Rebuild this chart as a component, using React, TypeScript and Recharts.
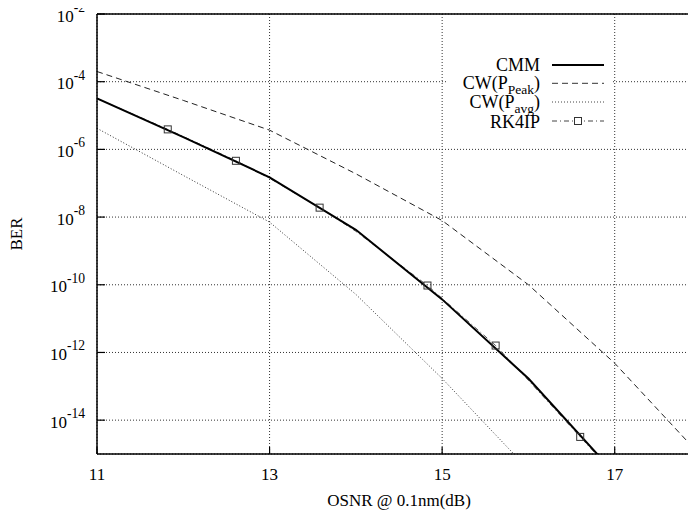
import React from "react";
import { LineChart, Line, XAxis, YAxis, CartesianGrid, ReferenceLine } from "recharts";

// OSNR (dB) x positions
const cmmX = [11, 12, 13, 14, 15, 16, 17];
const cmmBER = [3.2e-5, 2.3e-6, 1.5e-7, 4.2e-9, 3.7e-11, 1.7e-13, 2.7e-16];

const peakX = [11, 12, 13, 14, 15, 16, 17, 18];
const peakBER = [2.0e-4, 2.8e-5, 3.7e-6, 1.9e-7, 7.9e-9, 1.0e-10, 4.8e-13, 8.7e-16];

const avgX = [11, 12, 13, 14, 15, 16];
const avgBER = [4.2e-6, 1.7e-7, 7.1e-9, 5.2e-11, 1.7e-13, 3.5e-16];

const rkX = [11, 11.82, 12.61, 13, 13.58, 14, 14.83, 15.62, 16, 16.6, 17];
const rkBER = [3.2e-5, 3.9e-6, 4.6e-7, 1.4e-7, 1.9e-8, 3.8e-9, 9.5e-11, 1.6e-12, 1.5e-13, 3.2e-15, 2.5e-16];
const rkMarker = [false, true, true, false, true, false, true, true, false, true, false];

const xTicks = [11, 13, 15, 17];
const yTickExp = [-2, -4, -6, -8, -10, -12, -14];
const yTicks = yTickExp.map((e) => Math.pow(10, e));

const cmmData = cmmX.map((x, i) => ({ x, y: cmmBER[i] }));
const peakData = peakX.map((x, i) => ({ x, y: peakBER[i] }));
const avgData = avgX.map((x, i) => ({ x, y: avgBER[i] }));
const rkData = rkX.map((x, i) => ({ x, y: rkBER[i], m: rkMarker[i] }));

const FONT = "'Liberation Serif', 'Times New Roman', serif";

const YTick = (props: any) => {
  const { x, y, payload } = props;
  const exp = Math.round(Math.log10(payload.value));
  return (
    <g>
      <line x1={x + 12} x2={x + 20} y1={y} y2={y} stroke="#000" strokeWidth={1.2} />
      <text x={x} y={y + 7.5} textAnchor="end" fontFamily={FONT} fontSize={17} fill="#000">
        <tspan>10</tspan>
        <tspan dy={-9.5} fontSize={13.6}>{String(exp)}</tspan>
      </text>
    </g>
  );
};

const XTick = (props: any) => {
  const { x, y, payload } = props;
  const base = y - 14;
  return (
    <g>
      <line x1={x} x2={x} y1={base} y2={base - 7} stroke="#000" strokeWidth={1.2} />
      <text x={x} y={y + 12} textAnchor="middle" fontFamily={FONT} fontSize={17} fill="#000">
        {payload.value}
      </text>
    </g>
  );
};

const RkDot = (props: any) => {
  const { cx, cy, payload, index } = props;
  if (!payload || !payload.m) return <g key={`d${index}`} />;
  return (
    <rect key={`d${index}`} x={cx - 3.5} y={cy - 3.5} width={7} height={7} fill="none" stroke="#333" strokeWidth={1} />
  );
};

const Legend = () => (
  <div style={{ position: "absolute", left: 448, top: 52, width: 164, height: 82, background: "#fff" }}>
    <svg width={164} height={82}>
      <g fontFamily={FONT} fontSize={18} fill="#000">
        <text x={92} y={18.7} textAnchor="end">CMM</text>
        <text x={92} y={37} textAnchor="end">
          <tspan>CW(P</tspan>
          <tspan dy={5} fontSize={13.5}>Peak</tspan>
          <tspan dy={-5}>)</tspan>
        </text>
        <text x={92} y={55.7} textAnchor="end">
          <tspan>CW(P</tspan>
          <tspan dy={5} fontSize={13.5}>avg</tspan>
          <tspan dy={-5}>)</tspan>
        </text>
        <text x={92} y={75.7} textAnchor="end">RK4IP</text>
      </g>
      <line x1={104} x2={156} y1={13} y2={13} stroke="#000" strokeWidth={2} />
      <line x1={104} x2={156} y1={31.3} y2={31.3} stroke="#333" strokeWidth={1} strokeDasharray="6 4" />
      <line x1={104} x2={156} y1={50} y2={50} stroke="#444" strokeWidth={1} strokeDasharray="1 2" />
      <line x1={104} x2={156} y1={69} y2={69} stroke="#444" strokeWidth={1} strokeDasharray="5 3 1 3" />
      <rect x={126.5} y={65.5} width={7} height={7} fill="#fff" stroke="#333" strokeWidth={1} />
    </svg>
  </div>
);

export default function App() {
  return (
    <div style={{ position: "relative", margin: -8, width: 696, height: 518, overflow: "hidden", background: "#fff" }}>
      <LineChart width={710} height={518} margin={{ top: 14, right: 9, left: 0, bottom: 0 }}>
        <CartesianGrid stroke="#333" strokeDasharray="1 2" strokeWidth={1} />
        <XAxis
          type="number"
          dataKey="x"
          domain={[11, 18]}
          ticks={xTicks}
          allowDataOverflow
          height={64}
          tickLine={false}
          tickMargin={8}
          axisLine={{ stroke: "#000", strokeWidth: 1.5 }}
          tick={<XTick />}
          label={{ value: "OSNR @ 0.1nm(dB)", position: "insideBottom", offset: 12, style: { fontFamily: FONT, fontSize: 17, fill: "#000" } }}
        />
        <YAxis
          type="number"
          dataKey="y"
          scale="log"
          domain={[1e-15, 1e-2]}
          ticks={yTicks}
          allowDataOverflow
          width={97}
          tickLine={false}
          tickMargin={6}
          axisLine={{ stroke: "#000", strokeWidth: 1.5 }}
          tick={<YTick />}
          label={{ value: "BER", angle: -90, position: "insideLeft", offset: 16, style: { fontFamily: FONT, fontSize: 17, fill: "#000", textAnchor: "middle" } }}
        />
        <ReferenceLine y={1e-2} stroke="#000" strokeWidth={1.5} />
        <ReferenceLine x={18} stroke="#000" strokeWidth={1.5} />
        <Line data={avgData} dataKey="y" stroke="#333" strokeWidth={1} strokeDasharray="1 2" dot={false} isAnimationActive={false} />
        <Line data={peakData} dataKey="y" stroke="#222" strokeWidth={1} strokeDasharray="6 4" dot={false} isAnimationActive={false} />
        <Line data={rkData} dataKey="y" stroke="#555" strokeWidth={1} strokeDasharray="5 3 1 3" dot={<RkDot />} isAnimationActive={false} />
        <Line data={cmmData} dataKey="y" stroke="#000" strokeWidth={2} dot={false} isAnimationActive={false} />
      </LineChart>
      <Legend />
    </div>
  );
}
